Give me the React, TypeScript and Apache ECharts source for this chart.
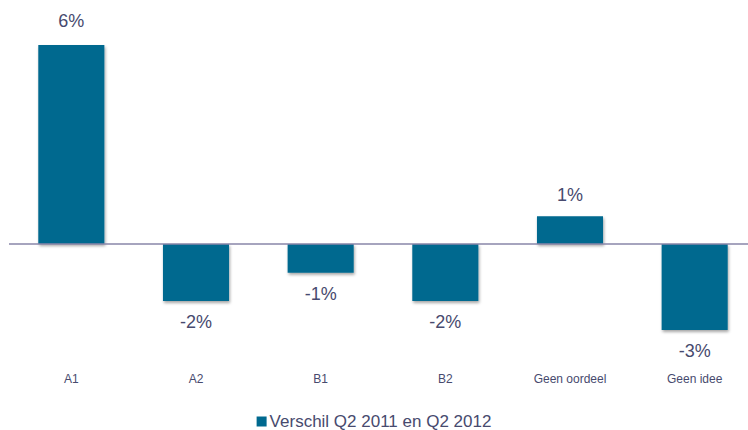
import React, { useEffect, useRef } from "react";
import * as echarts from "echarts";

const categories = ["A1", "A2", "B1", "B2", "Geen oordeel", "Geen idee"];
const seriesName = "Verschil Q2 2011 en Q2 2012";
const values = [6.0, -1.72, -0.87, -1.72, 0.84, -2.59];

const BAR = "#00698F";
const TEXT = "#474a6e";

export default function App() {
  const ref = useRef<HTMLDivElement>(null);
  useEffect(() => {
    if (!ref.current) return;
    const chart = echarts.init(ref.current, null, { renderer: "svg" });
    chart.setOption({
      animation: false,
      backgroundColor: "#ffffff",
      grid: {
        left: 9,
        width: 748,
        top: 45,
        height: 298.5,
        containLabel: false,
        outerBoundsMode: "none",
      },
      legend: {
        data: [seriesName],
        left: "center",
        top: 408,
        icon: "rect",
        itemWidth: 10,
        itemHeight: 10,
        itemGap: 10,
        textStyle: { fontSize: 17, color: TEXT, fontFamily: "'Liberation Sans', Arial, sans-serif", padding: [0, 0, 0, -2] },
      },
      xAxis: {
        type: "category",
        data: categories,
        axisLine: { show: false, onZero: false },
        axisTick: { show: false },
        axisLabel: {
          margin: 29,
          fontSize: 12,
          color: TEXT,
          fontFamily: "'Liberation Sans', Arial, sans-serif",
        },
      },
      yAxis: {
        type: "value",
        min: -3,
        max: 6,
        show: false,
        splitLine: { show: false },
      },
      series: [
        {
          name: seriesName,
          type: "bar",
          barWidth: "53%",
          itemStyle: {
            color: BAR,
            shadowColor: "rgba(0,0,0,0.35)",
            shadowBlur: 3,
            shadowOffsetX: 1,
            shadowOffsetY: 2,
          },
          data: values.map((v, i) => ({
            value: v,
            label: {
              position: v >= 0 ? "top" : "bottom",
              distance: i === 0 ? 15 : 12,
            },
          })),
          label: {
            show: true,
            fontSize: 18,
            color: TEXT,
            fontFamily: "'Liberation Sans', Arial, sans-serif",
            formatter: (p: any) => Math.round(p.value) + "%",
          },
          markLine: {
            silent: true,
            symbol: "none",
            label: { show: false },
            lineStyle: { color: "#8886a8", width: 1.5, type: "solid" },
            data: [{ yAxis: 0 }],
          },
          z: 3,
        },
      ],
    });
    return () => chart.dispose();
  }, []);
  return (
    <div
      ref={ref}
      style={{ position: "fixed", left: 0, top: 0, width: 748, height: 430 }}
    />
  );
}
